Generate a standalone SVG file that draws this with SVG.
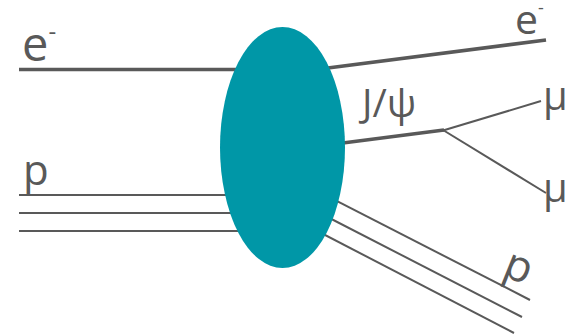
<svg xmlns="http://www.w3.org/2000/svg" width="574" height="335" viewBox="0 0 574 335">
  <style>
    .thick { stroke: #595959; stroke-width: 3.6; fill: none; stroke-linecap: butt; }
    .thin { stroke: #595959; stroke-width: 2; fill: none; }
    .lbl { font-family: "Open Sans", "DejaVu Sans", sans-serif; fill: #595959; }
  </style>
  <rect width="574" height="335" fill="#ffffff"/>
  <g id="connectors">
    <line class="thick" x1="19" y1="69.5" x2="245" y2="69.5"/>
    <line class="thin" x1="19" y1="195" x2="260" y2="195"/>
    <line class="thin" x1="19" y1="213" x2="260" y2="213"/>
    <line class="thin" x1="19" y1="231" x2="260" y2="231"/>
    <line class="thick" x1="320" y1="69" x2="546" y2="40"/>
    <line class="thick" x1="335" y1="144" x2="444" y2="130"/>
    <line class="thin" x1="443" y1="130.5" x2="541" y2="101"/>
    <line class="thin" x1="443" y1="130" x2="546" y2="193"/>
    <line class="thin" x1="320" y1="192.3" x2="530" y2="300"/>
    <line class="thin" x1="310" y1="208" x2="522" y2="317"/>
    <line class="thin" x1="300" y1="222" x2="514" y2="333"/>
  </g>
  <g id="blob">
    <ellipse cx="282.5" cy="147.5" rx="62.5" ry="120.5" fill="#0097A7"/>
  </g>
  <g id="label-e-in">
    <text class="lbl" x="22" y="61" font-size="47">e<tspan font-size="24" dy="-21">-</tspan></text>
  </g>
  <g id="label-p-in">
    <text class="lbl" x="23" y="185" font-size="42">p</text>
  </g>
  <g id="label-e-out">
    <text class="lbl" x="515" y="34" font-size="41">e<tspan font-size="18" dy="-20">-</tspan></text>
  </g>
  <g id="label-jpsi">
    <text class="lbl" x="362" y="117" font-size="39">J/ψ</text>
  </g>
  <g id="label-mu1">
    <text class="lbl" x="543" y="110" font-size="40">μ</text>
  </g>
  <g id="label-mu2">
    <text class="lbl" x="543" y="202" font-size="40">μ</text>
  </g>
  <g id="label-p-out">
    <text class="lbl" transform="translate(501,275) rotate(22)" font-size="44">p</text>
  </g>
</svg>
